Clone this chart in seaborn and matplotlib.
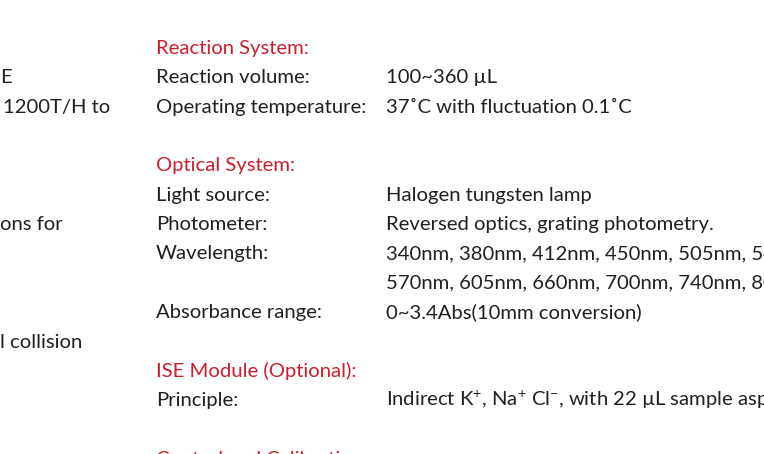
"""Spec sheet excerpt rendered as text with seaborn/matplotlib."""

import matplotlib.pyplot as plt
import seaborn as sns

# section headings and the grid line each sits on
headings = ["Reaction System:", "Optical System:", "ISE Module (Optional):",
            "Control and Calibration"]
heading_rows = [0, 4, 11, 14]

# item labels and their lines
labels = ["Reaction volume:", "Operating temperature:", "Light source:",
          "Photometer:", "Wavelength:", "Absorbance range:", "Principle:"]
label_rows = [1, 2, 5, 6, 7, 9, 12]

# item values and their lines
values = [
    "100~360 \u00b5L",
    "37\u02daC with fluctuation 0.1\u02daC",
    "Halogen tungsten lamp",
    "Reversed optics, grating photometry.",
    "340nm, 380nm, 412nm, 450nm, 505nm, 546nm,",
    "570nm, 605nm, 660nm, 700nm, 740nm, 800nm",
    "0~3.4Abs(10mm conversion)",
    "Indirect K$^{+}$, Na$^{+}$ Cl$^{-}$, with 22 \u00b5L sample aspiration",
]
value_rows = [1, 2, 5, 6, 7, 8, 9, 12]

# fragments of the neighbouring column cut by the left edge
left_text = ["E", "1200T/H to", "ons for", "l collision"]
left_rows = [1, 2, 6, 10]
left_x = [0, 3, 0, 0]

RED = "#cc1f2d"
DARK = "#231f20"
FONT = "Lato"
SIZE = 14.6

sns.set_theme(style="white")
plt.rcParams["font.family"] = [FONT, "DejaVu Sans"]
plt.rcParams["mathtext.fontset"] = "custom"
plt.rcParams["mathtext.rm"] = FONT
plt.rcParams["mathtext.it"] = FONT
plt.rcParams["mathtext.default"] = "regular"

fig = plt.figure(figsize=(7.64, 4.54), dpi=100)
ax = fig.add_axes([0, 0, 1, 1])
ax.set_xlim(0, 764)
ax.set_ylim(454, 0)
ax.axis("off")

top, step = 54, 29.35
label_x, value_x = 156, 386

for txt, r in zip(headings, heading_rows):
    ax.text(label_x, top + r * step, txt, color=RED, fontsize=SIZE, va="baseline")
for txt, r in zip(labels, label_rows):
    ax.text(label_x, top + r * step, txt, color=DARK, fontsize=SIZE, va="baseline")
for txt, r in zip(values, value_rows):
    ax.text(value_x, top + r * step, txt, color=DARK, fontsize=SIZE, va="baseline")
for txt, r, x in zip(left_text, left_rows, left_x):
    ax.text(x, top + r * step, txt, color=DARK, fontsize=SIZE, va="baseline")

fig.savefig("out.png", dpi=100, facecolor="white")
